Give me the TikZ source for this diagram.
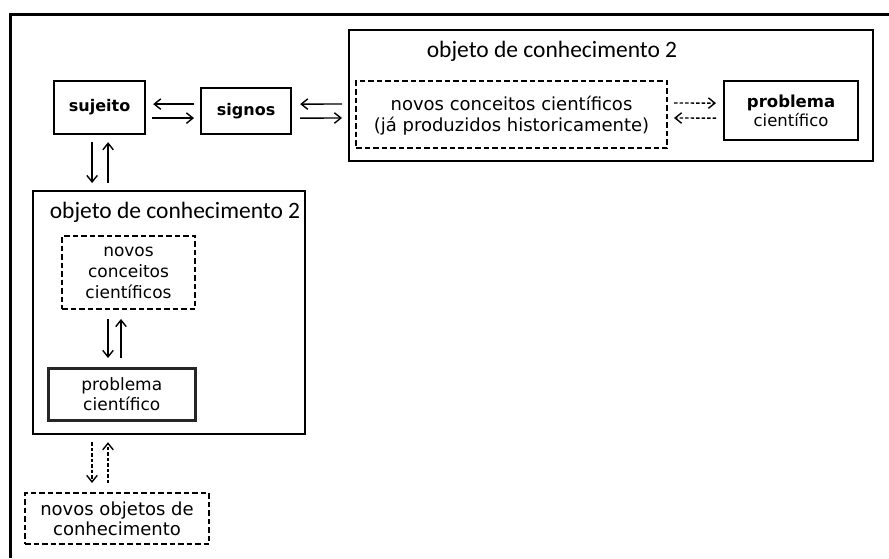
\documentclass[tikz,border=0pt]{standalone}
\usepackage{fontspec}
\setmainfont{DejaVu Sans}
\newfontfamily\titlefont{Carlito}
\usetikzlibrary{arrows.meta,calc}

\tikzset{
  box/.style={draw, line width=2.2pt, inner sep=0pt, anchor=north west, align=center},
  dbox/.style={box, line width=2pt, dash pattern=on 5.5pt off 3pt},
  frame/.style={box, line width=2.2pt},
  arr/.style={line width=1.4pt, -{Straight Barb[length=6.5pt,width=10.5pt]}},
  darr/.style={arr, dash pattern=on 3.5pt off 2pt},
  ttl/.style={font=\titlefont\fontsize{23.5}{26}\selectfont, inner sep=0pt},
}

\begin{document}
\begin{tikzpicture}[x=1pt, y=-1pt]
  \useasboundingbox (0,0) rectangle (889,558);
  % outer frame (open at right and bottom)
  \draw[line width=3pt] (10,558) -- (10,14) -- (889,14);

  % upper right: object of knowledge
  \node[frame, minimum width=524pt, minimum height=131pt] (R) at (348,29) {};
  \node[ttl] (Rt) at (552,51) {objeto de conhecimento 2};
  \node[dbox, minimum width=311pt, minimum height=67pt,
        font=\fontsize{18}{20.3}\selectfont] (DR) at (355,80)
        {\rule{0pt}{17pt}novos conceitos científicos\\(já produzidos historicamente)};
  \node[box, minimum width=134pt, minimum height=59pt,
        font=\fontsize{16.5}{19}\selectfont] (PR) at (723,80)
        {\textbf{problema}\\científico};

  % subject and signs
  \node[box, minimum width=91pt, minimum height=53pt,
        font=\bfseries\fontsize{16}{19}\selectfont] (S) at (53,80) {sujeito};
  \node[box, minimum width=90pt, minimum height=46pt,
        font=\bfseries\fontsize{16}{19}\selectfont] (G) at (200,87) {signos};

  % lower left: object of knowledge
  \node[frame, minimum width=272pt, minimum height=243pt] (L) at (32,190) {};
  \node[ttl] (Lt) at (175,212) {objeto de conhecimento 2};
  \node[dbox, minimum width=133pt, minimum height=73pt,
        font=\fontsize{17}{21}\selectfont] (DL) at (61,235)
        {novos\\conceitos\\científicos};
  \node[box, draw=black!85, line width=2.6pt, minimum width=147pt, minimum height=52pt,
        font=\fontsize{17}{20}\selectfont] (PL) at (47,367)
        {problema\\científico};
  \node[dbox, minimum width=184pt, minimum height=51pt,
        font=\fontsize{18}{20}\selectfont] (NO) at (24,492)
        {novos objetos de\\conhecimento};

  % sujeito <-> signos
  \draw[arr] ($(G.west)+(-6,-7)$) -- ($(S.east)+(7,-3.5)$);
  \draw[arr] ($(S.east)+(6,10.5)$) -- ($(G.west)+(-6,7)$);
  % signos <-> novos conceitos
  \draw[arr] ($(DR.west)+(-13,-10.5)$) -- ($(G.east)+(8,-7)$);
  \draw[arr] ($(G.east)+(8,7)$) -- ($(DR.west)+(-13,3.5)$);
  % novos conceitos <-> problema (dashed)
  \draw[darr] ($(DR.east)+(6,-11.5)$) -- ($(PR.west)+(-7,-7.5)$);
  \draw[darr] ($(PR.west)+(-7,7.5)$) -- ($(DR.east)+(6,3.5)$);

  % sujeito <-> lower object
  \draw[arr] ($(S.south)+(-7.5,7)$) -- ($(S.south|-L.north)+(-7.5,-7)$);
  \draw[arr] ($(S.south|-L.north)+(8.5,-7)$) -- ($(S.south)+(8.5,7)$);
  % novos conceitos <-> problema (lower)
  \draw[arr] ($(DL.south)+(-20.5,9)$) -- ($(DL.south|-PL.north)+(-20.5,-9)$);
  \draw[arr] ($(DL.south|-PL.north)+(-7.5,-9)$) -- ($(DL.south)+(-7.5,9)$);
  % lower object <-> novos objetos (dashed)
  \draw[darr] ($(NO.north|-L.south)+(-25,7)$) -- ($(NO.north)+(-25,-9)$);
  \draw[darr] ($(NO.north)+(-9,-9)$) -- ($(NO.north|-L.south)+(-9,7)$);
\end{tikzpicture}
\end{document}
